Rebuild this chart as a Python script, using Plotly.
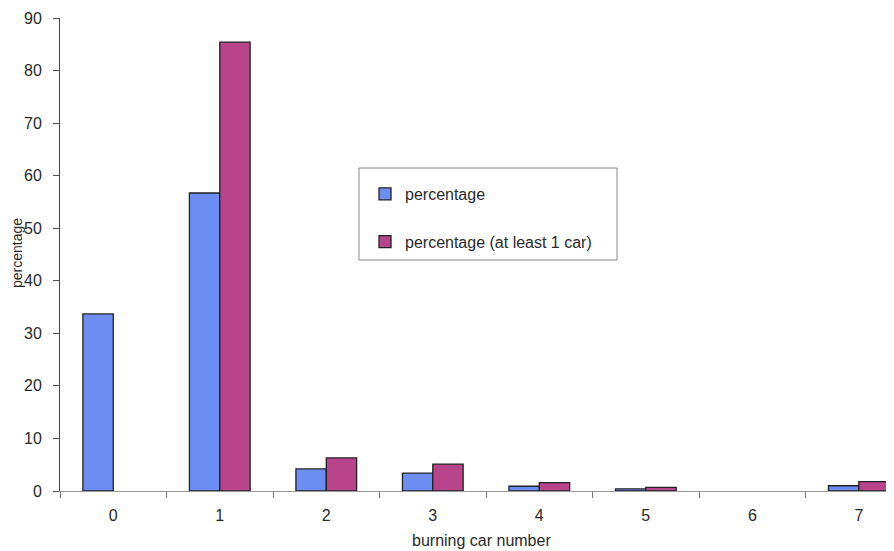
import plotly.graph_objects as go

categories = ["0", "1", "2", "3", "4", "5", "6", "7"]
percentage = [33.7, 56.7, 4.2, 3.4, 0.9, 0.4, None, 1.0]
percentage_at_least_1 = [None, 85.4, 6.3, 5.1, 1.6, 0.7, None, 1.8]
y_ticks = [0, 10, 20, 30, 40, 50, 60, 70, 80, 90]

FONT = "Liberation Sans, Arial, sans-serif"
BLUE = "rgb(108,142,242)"
RED = "rgb(184,68,140)"
TXT = "#2a2a2a"

fig = go.Figure()
fig.add_trace(go.Bar(
    x=categories, y=percentage, name="percentage",
    marker=dict(color=BLUE, line=dict(color="#222", width=1.3)),
    legendgroup="a",
))
fig.add_trace(go.Bar(
    x=categories, y=percentage_at_least_1, name="percentage (at least 1 car)",
    marker=dict(color=RED, line=dict(color="#222", width=1.3)),
    legendgroup="b",
))

# page is shown with an 8px body margin, so the figure is 886x543
fig.update_layout(
    width=886, height=543,
    margin=dict(l=52, r=0, t=10, b=60, pad=0, autoexpand=False),
    paper_bgcolor="white", plot_bgcolor="white",
    font=dict(family=FONT, size=16, color=TXT),
    barmode="group", bargap=0.43, bargroupgap=0,
    showlegend=True,
    legend=dict(
        x=(385 - 60 - 20) / 834, y=(491 - 177) / 473,
        xanchor="left", yanchor="top",
        bgcolor="rgba(0,0,0,0)", borderwidth=0,
        traceorder="grouped", tracegroupgap=24,
        font=dict(family=FONT, size=16, color=TXT),
    ),
    xaxis=dict(
        type="category", range=[-0.5, 7.33], automargin=False,
        tickson="boundaries", ticks="outside", ticklen=6, tickcolor="#777",
        showline=True, linecolor="#999", linewidth=1,
        showgrid=False, zeroline=False,
        ticklabelstandoff=10,
        tickfont=dict(size=16, color=TXT),
    ),
    yaxis=dict(
        range=[0, 90], tickvals=y_ticks, automargin=False,
        ticks="outside", ticklen=6, tickcolor="#555",
        showline=True, linecolor="#444", linewidth=1,
        showgrid=False, zeroline=False,
        ticklabelstandoff=8,
        tickfont=dict(size=16, color=TXT),
    ),
    shapes=[dict(
        type="rect", xref="paper", yref="paper",
        x0=(359 - 60) / 834, x1=(617 - 60) / 834,
        y0=(491 - 168) / 473, y1=(491 - 260) / 473,
        line=dict(color="#888", width=1), fillcolor="white", layer="below",
    )],
    annotations=[
        dict(text="burning car number", xref="paper", yref="paper",
             x=(481 - 60) / 834, y=(491 - 540) / 473,
             xanchor="center", yanchor="middle", showarrow=False,
             font=dict(size=16, color=TXT)),
        dict(text="percentage", xref="paper", yref="paper",
             x=(17 - 60) / 834, y=(491 - 253) / 473,
             xanchor="center", yanchor="middle", showarrow=False,
             textangle=-90, font=dict(size=14, color=TXT)),
    ],
)

fig.write_html("out.html")
